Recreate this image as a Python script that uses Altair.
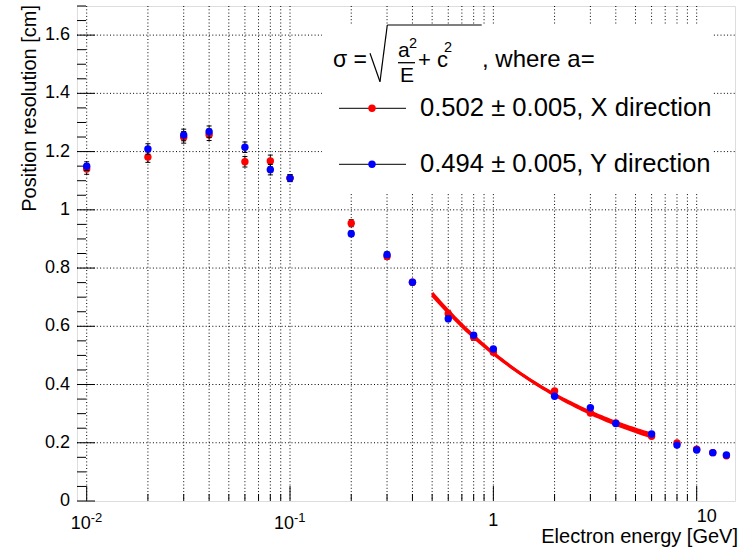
import altair as alt
import numpy as np
import pandas as pd

FONT = "Liberation Sans"

# Beam energy [GeV]
energy = [0.01, 0.02, 0.03, 0.04, 0.06, 0.08, 0.1, 0.2, 0.3, 0.4, 0.6, 0.8,
          1, 2, 3, 4, 6, 8, 10, 12, 14]

# Position resolution along X [cm]
res_x = [1.140, 1.181, 1.249, 1.258, 1.165, 1.168, 1.109, 0.954, 0.840, 0.751,
         0.643, 0.562, 0.511, 0.378, 0.302, 0.268, 0.222, 0.199, 0.178, 0.166, 0.155]
res_x_err = [0.018, 0.018, 0.020, 0.020, 0.018, 0.020, 0.012, 0.012, 0.010, 0.008,
             0.012, 0.010, 0.008, 0.008, 0.006, 0.005, 0.005, 0.004, 0.004, 0.003, 0.003]

# Position resolution along Y [cm]
res_y = [1.150, 1.209, 1.257, 1.268, 1.215, 1.138, 1.109, 0.918, 0.846, 0.751,
         0.626, 0.569, 0.522, 0.360, 0.320, 0.266, 0.230, 0.192, 0.175, 0.166, 0.158]
res_y_err = [0.015, 0.018, 0.020, 0.020, 0.018, 0.018, 0.012, 0.010, 0.010, 0.008,
             0.010, 0.008, 0.007, 0.006, 0.006, 0.005, 0.005, 0.004, 0.004, 0.003, 0.003]

# Fit sigma = sqrt(a^2/E + c^2) over 0.5-6 GeV
fit_a = {"X": 0.502, "Y": 0.494}
fit_c = {"X": 0.08, "Y": 0.11}
fit_lo, fit_hi = 0.5, 6.0

# Axis furniture
x_major = [0.01, 0.1, 1, 10]
x_minor = [m * 10.0 ** k for k in (-2, -1, 0) for m in range(2, 10)]
y_major = [0, 0.2, 0.4, 0.6, 0.8, 1.0, 1.2, 1.4, 1.6]
y_labels = ["0", "0.2", "0.4", "0.6", "0.8", "1", "1.2", "1.4", "1.6"]
y_minor = [round(0.05 * i, 2) for i in range(35) if i % 4]

W, H = 658, 495
xscale = alt.Scale(type="log", domain=[0.00896, 15.43], nice=False)
yscale = alt.Scale(domain=[0, 1.7], nice=False, zero=False)

pts = pd.DataFrame({
    "E": energy * 2,
    "v": res_x + res_y,
    "err": res_x_err + res_y_err,
    "dir": ["X"] * len(energy) + ["Y"] * len(energy),
})
pts["lo"] = pts["v"] - pts["err"]
pts["hi"] = pts["v"] + pts["err"]

curves = []
for d in ("X", "Y"):
    e = np.geomspace(fit_lo, fit_hi, 80)
    curves.append(pd.DataFrame({"E": e, "v": np.sqrt(fit_a[d] ** 2 / e + fit_c[d] ** 2), "dir": d}))
fit = pd.concat(curves)

one = pd.DataFrame({"d": [0]})


def txt(s, x, y, size, align="left", angle=0, baseline="alphabetic"):
    return alt.Chart(pd.DataFrame({"t": [s]})).mark_text(
        align=align, baseline=baseline, fontSize=size, angle=angle,
        color="black", font=FONT
    ).encode(x=alt.value(x), y=alt.value(y), text="t:N")


def seg(x1, y1, x2, y2, w=1.0):
    return alt.Chart(one).mark_rule(color="black", strokeWidth=w).encode(
        x=alt.value(x1), y=alt.value(y1), x2=alt.value(x2), y2=alt.value(y2))


X = lambda f: alt.X(f, type="quantitative", scale=xscale, axis=None)
Y = lambda f: alt.Y(f, type="quantitative", scale=yscale, axis=None)

# Dotted grid
grid_v = alt.Chart(pd.DataFrame({"t": x_major + x_minor})).mark_rule(
    color="black", strokeWidth=1, strokeDash=[1, 2.3]).encode(
    x=X("t"), y=alt.value(0), y2=alt.value(H))
grid_h = alt.Chart(pd.DataFrame({"t": y_major[1:]})).mark_rule(
    color="black", strokeWidth=1, strokeDash=[1, 2.3]).encode(
    y=Y("t"), x=alt.value(0), x2=alt.value(W))

# Inward ticks
def tick_layer(vals, axis, length):
    df = pd.DataFrame({"t": vals})
    if axis == "y":
        return alt.Chart(df).mark_rule(color="black").encode(
            y=Y("t"), x=alt.value(0), x2=alt.value(length))
    return alt.Chart(df).mark_rule(color="black").encode(
        x=X("t"), y=alt.value(H), y2=alt.value(H - length))

ticks = [tick_layer(y_major, "y", 18), tick_layer(y_minor, "y", 9),
         tick_layer(x_major, "x", 15), tick_layer(x_minor, "x", 7)]

# Y tick labels
y_lab = alt.Chart(pd.DataFrame({"t": y_major, "s": y_labels})).mark_text(
    align="right", baseline="middle", fontSize=18, font=FONT, color="black").encode(
    y=Y("t"), x=alt.value(-7), text="s:N")

# Legend panel
legend_bg = alt.Chart(one).mark_rect(color="white").encode(
    x=alt.value(245), x2=alt.value(635), y=alt.value(19), y2=alt.value(186))


def series(d, color):
    sub = pts[pts["dir"] == d]
    bars = alt.Chart(sub).mark_rule(color="black", strokeWidth=1).encode(
        x=X("E"), y=Y("lo"), y2=alt.Y2("hi"))
    cap_hi = alt.Chart(sub).mark_rule(color="black", strokeWidth=1, xOffset=-2.5, x2Offset=2.5).encode(
        x=X("E"), x2=alt.X2("E"), y=Y("hi"), y2=alt.Y2("hi"))
    cap_lo = alt.Chart(sub).mark_rule(color="black", strokeWidth=1, xOffset=-2.5, x2Offset=2.5).encode(
        x=X("E"), x2=alt.X2("E"), y=Y("lo"), y2=alt.Y2("lo"))
    dots = alt.Chart(sub).mark_circle(color=color, opacity=1, size=55).encode(x=X("E"), y=Y("v"))
    return [bars, cap_hi, cap_lo, dots]


fit_lines = alt.Chart(fit).mark_line(color="#ff0000", strokeWidth=3).encode(
    x=X("E"), y=Y("v"), detail="dir:N")

# X axis labels
pow_df = pd.DataFrame({"E": [0.01, 0.1], "b": ["10", "10"], "p": ["-2", "-1"]})
pow_base = alt.Chart(pow_df).mark_text(align="right", baseline="alphabetic", fontSize=18,
                                       font=FONT, color="black", dx=4).encode(
    x=X("E"), y=alt.value(523), text="b:N")
pow_exp = alt.Chart(pow_df).mark_text(align="left", baseline="alphabetic", fontSize=13,
                                      font=FONT, color="black", dx=4).encode(
    x=X("E"), y=alt.value(516), text="p:N")
lab_one = alt.Chart(pd.DataFrame({"E": [1], "t": ["1"]})).mark_text(
    align="center", baseline="alphabetic", fontSize=18, font=FONT, color="black").encode(
    x=X("E"), y=alt.value(520), text="t:N")
lab_ten = alt.Chart(pd.DataFrame({"E": [10], "t": ["10"]})).mark_text(
    align="left", baseline="alphabetic", fontSize=18, font=FONT, color="black").encode(
    x=X("E"), y=alt.value(516), text="t:N")

# Legend formula and entries
legend = [
    txt("σ =", 256, 60.7, 23),
    seg(293, 47.3, 303, 75.7, 1.2), seg(303, 75.7, 310.3, 19, 1.2), seg(310.3, 19, 404.7, 19, 1.2),
    txt("a", 321, 50.7, 21), txt("2", 332, 42, 14.5),
    seg(321, 56.7, 338, 56.7, 1.3),
    txt("E", 323, 75.7, 21),
    txt("+ c", 341, 60.7, 22), txt("2", 367, 46, 14.5),
    txt(", where a=", 405, 60.7, 24),
    seg(262, 102.3, 329, 102.3, 1), seg(262, 158.3, 329, 158.3, 1),
    alt.Chart(one).mark_circle(color="#ff0000", opacity=1, size=55).encode(
        x=alt.value(295), y=alt.value(102.3)),
    alt.Chart(one).mark_circle(color="#0000ff", opacity=1, size=55).encode(
        x=alt.value(295), y=alt.value(158.3)),
    txt("0.502 ± 0.005, X direction", 343, 110, 25.6),
    txt("0.494 ± 0.005, Y direction", 343, 165.7, 25.6),
]

titles = [
    txt("Electron energy [GeV]", 661, 537, 20, align="right"),
    txt("Position resolution [cm]", -47, -1, 20, align="right", angle=270, baseline="middle"),
]

layers = ([grid_v, grid_h, legend_bg] + ticks + [y_lab] + series("X", "#ff0000") + [fit_lines]
          + series("Y", "#0000ff") + [pow_base, pow_exp, lab_one, lab_ten] + legend + titles)

chart = alt.layer(*layers).properties(
    width=W, height=H,
    padding={"left": 77, "top": 6, "right": 8, "bottom": 47},
    autosize=alt.AutoSizeParams(type="none"),
    background="white",
).configure_view(stroke="black", strokeWidth=1.5).configure(font=FONT)

chart.save("out.html", embed_options={"renderer": "svg", "actions": False})
